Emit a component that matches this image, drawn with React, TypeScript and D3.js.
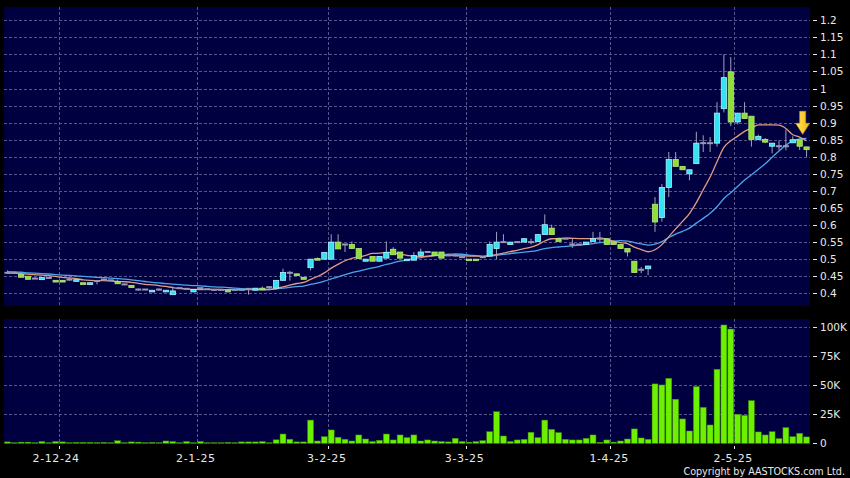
import React from "react";
import * as d3 from "d3";

// ---- data ----
const priorCloses = [0.475, 0.47, 0.472, 0.468, 0.466, 0.47, 0.465, 0.463, 0.466, 0.462, 0.46, 0.462, 0.46, 0.458, 0.46, 0.456, 0.46, 0.458, 0.46];

const opens = [
  0.46, 0.46, 0.455, 0.45, 0.443, 0.44, 0.445, 0.438, 0.438, 0.44,
  0.435, 0.431, 0.426, 0.436, 0.44, 0.438, 0.435, 0.426, 0.423, 0.411,
  0.411, 0.404, 0.411, 0.404, 0.396, 0.415, 0.413, 0.404, 0.415, 0.412,
  0.41, 0.41, 0.409, 0.41, 0.41, 0.413, 0.409, 0.415, 0.418, 0.415,
  0.438, 0.46, 0.457, 0.447, 0.475, 0.502, 0.5, 0.5, 0.55, 0.543,
  0.543, 0.531, 0.494, 0.508, 0.494, 0.503, 0.529, 0.521, 0.497, 0.497,
  0.511, 0.521, 0.521, 0.521, 0.511, 0.511, 0.506, 0.5, 0.5, 0.506,
  0.509, 0.531, 0.55, 0.543, 0.55, 0.55, 0.55, 0.552, 0.572, 0.591,
  0.56, 0.56, 0.543, 0.543, 0.543, 0.552, 0.56, 0.56, 0.55, 0.543,
  0.531, 0.494, 0.469, 0.472, 0.661, 0.622, 0.71, 0.792, 0.772, 0.75,
  0.78, 0.84, 0.84, 0.84, 0.941, 1.049, 0.902, 0.928, 0.919, 0.851,
  0.851, 0.831, 0.831, 0.831, 0.841, 0.85, 0.829,
];
const highs = [
  0.467, 0.46, 0.455, 0.45, 0.447, 0.446, 0.445, 0.438, 0.438, 0.443,
  0.44, 0.431, 0.431, 0.436, 0.443, 0.438, 0.44, 0.426, 0.423, 0.414,
  0.411, 0.409, 0.414, 0.409, 0.42, 0.415, 0.413, 0.411, 0.415, 0.412,
  0.41, 0.41, 0.409, 0.41, 0.41, 0.413, 0.415, 0.42, 0.421, 0.438,
  0.472, 0.465, 0.457, 0.447, 0.5, 0.505, 0.52, 0.573, 0.573, 0.543,
  0.552, 0.531, 0.5, 0.508, 0.508, 0.552, 0.535, 0.521, 0.5, 0.521,
  0.531, 0.524, 0.521, 0.521, 0.511, 0.514, 0.506, 0.5, 0.5, 0.506,
  0.552, 0.58, 0.573, 0.55, 0.55, 0.562, 0.56, 0.572, 0.631, 0.601,
  0.56, 0.56, 0.56, 0.543, 0.55, 0.58, 0.58, 0.56, 0.55, 0.543,
  0.531, 0.494, 0.477, 0.48, 0.682, 0.72, 0.814, 0.814, 0.772, 0.762,
  0.873, 0.863, 0.858, 0.96, 1.1, 1.092, 0.928, 0.96, 0.919, 0.865,
  0.855, 0.84, 0.848, 0.88, 0.86, 0.85, 0.829,
];
const lows = [
  0.458, 0.46, 0.447, 0.441, 0.443, 0.44, 0.445, 0.433, 0.433, 0.437,
  0.435, 0.426, 0.426, 0.426, 0.437, 0.438, 0.428, 0.426, 0.417, 0.408,
  0.411, 0.404, 0.408, 0.404, 0.396, 0.415, 0.413, 0.404, 0.415, 0.412,
  0.41, 0.41, 0.404, 0.41, 0.41, 0.396, 0.409, 0.41, 0.412, 0.415,
  0.438, 0.437, 0.452, 0.441, 0.467, 0.497, 0.5, 0.5, 0.53, 0.521,
  0.531, 0.502, 0.494, 0.494, 0.494, 0.503, 0.513, 0.503, 0.497, 0.497,
  0.511, 0.521, 0.511, 0.503, 0.511, 0.508, 0.506, 0.497, 0.497, 0.506,
  0.509, 0.5, 0.55, 0.543, 0.55, 0.55, 0.543, 0.552, 0.572, 0.572,
  0.552, 0.56, 0.533, 0.543, 0.543, 0.552, 0.55, 0.543, 0.543, 0.531,
  0.508, 0.461, 0.459, 0.453, 0.58, 0.61, 0.682, 0.772, 0.762, 0.731,
  0.78, 0.814, 0.814, 0.83, 0.93, 0.89, 0.895, 0.912, 0.83, 0.851,
  0.84, 0.81, 0.819, 0.819, 0.841, 0.82, 0.8,
];
const closes = [
  0.46, 0.46, 0.447, 0.441, 0.443, 0.446, 0.445, 0.433, 0.433, 0.44,
  0.44, 0.426, 0.431, 0.436, 0.44, 0.438, 0.428, 0.426, 0.417, 0.411,
  0.411, 0.409, 0.411, 0.409, 0.407, 0.415, 0.413, 0.411, 0.415, 0.412,
  0.41, 0.41, 0.404, 0.41, 0.41, 0.413, 0.415, 0.41, 0.418, 0.438,
  0.461, 0.46, 0.452, 0.441, 0.5, 0.497, 0.52, 0.55, 0.53, 0.543,
  0.531, 0.502, 0.5, 0.494, 0.508, 0.52, 0.513, 0.503, 0.5, 0.511,
  0.521, 0.521, 0.511, 0.503, 0.511, 0.511, 0.506, 0.497, 0.497, 0.506,
  0.543, 0.55, 0.55, 0.55, 0.55, 0.56, 0.55, 0.572, 0.601, 0.572,
  0.552, 0.56, 0.543, 0.543, 0.55, 0.56, 0.56, 0.543, 0.543, 0.531,
  0.521, 0.461, 0.469, 0.48, 0.609, 0.71, 0.792, 0.772, 0.762, 0.762,
  0.84, 0.84, 0.84, 0.928, 1.032, 0.902, 0.928, 0.912, 0.851, 0.86,
  0.843, 0.84, 0.831, 0.831, 0.85, 0.831, 0.821,
];
// volume in thousands of shares
const volumesK = [
  1.2, 0.3, 1.0, 1.0, 0.3, 1.5, 0.3, 1.5, 1.2, 0.5,
  0.8, 0.8, 0.8, 0.6, 0.8, 0.5, 2.2, 0.3, 1.2, 1.0,
  0.3, 0.8, 0.3, 2.0, 1.5, 0.2, 1.5, 0.3, 1.5, 0.2,
  0.2, 0.1, 0.8, 0.2, 1.2, 1.2, 1.2, 1.5, 0.5, 3.0,
  8.0, 3.5, 1.2, 1.2, 20, 2.0, 5.7, 11.5, 5.2, 3.5,
  2.0, 7.2, 3.7, 1.5, 2.6, 8.0, 2.9, 7.2, 4.9, 7.2,
  2.0, 2.9, 2.0, 1.5, 1.2, 4.3, 1.5, 1.0, 1.5, 2.3,
  10, 27.3, 6.3, 1.5, 2.9, 3.4, 9.5, 4.9, 20, 12,
  9.2, 3.4, 2.9, 2.9, 4.3, 7.2, 0.9, 2.9, 1.0, 2.0,
  3.7, 12.4, 4.6, 3.4, 51.2, 50.3, 56, 38, 21, 10.6,
  48.9, 31, 15.8, 63.8, 102, 98.5, 25, 24.1, 36.8, 9.8,
  7.2, 10, 4, 13.5, 5.7, 8.6, 5.5,
];
const tickIndex = [8, 28, 47, 67, 88, 106];
const tickLabels = ["2-12-24", "2-1-25", "3-2-25", "3-3-25", "1-4-25", "2-5-25"];
const priceTicks = [0.4, 0.45, 0.5, 0.55, 0.6, 0.65, 0.7, 0.75, 0.8, 0.85, 0.9, 0.95, 1, 1.05, 1.1, 1.15, 1.2];
const volTicks = [0, 25, 50, 75, 100];
const volTickLabels = ["0", "25K", "50K", "75K", "100K"];
const maShort = 10;
const maLong = 20;

// ---- layout ----
const W = 850, H = 478;
const L = 4, R = 810;
const mainTop = 7, mainBot = 306;
const volTop = 319, volBot = 444;

const BG = "#000000";
const PANEL = "#000040";
const GRID = "#56568a";
const TEXT = "#e8e8e8";
const FONT = "'DejaVu Sans', Verdana, sans-serif";

function movingAvg(all: number[], n: number, offset: number) {
  const out: number[] = [];
  for (let i = offset; i < all.length; i++) {
    const s = Math.max(0, i - n + 1);
    out.push(d3.mean(all.slice(s, i + 1)) as number);
  }
  return out;
}

export default function App() {
  const N = closes.length;
  const idx = d3.range(N);
  const pad = 0.18;
  const x = d3.scaleBand<number>().domain(idx).range([L, R]).paddingInner(pad).paddingOuter(pad / 2);
  const step = x.step();
  const bw = x.bandwidth();
  const cx = (i: number) => (x(i) as number) + bw / 2;
  const slot = (i: number) => (x(i) as number) - (step * pad) / 2;

  const y = d3.scaleLinear().domain([0.4, 1.2]).range([293.3, 20.3]);
  const yv = d3.scaleLinear().domain([0, 100]).range([443.3, 327.3]);

  const all = [...priorCloses, ...closes];
  const ma10 = movingAvg(all, maShort, priorCloses.length);
  const ma20 = movingAvg(all, maLong, priorCloses.length);
  const line = d3.line<number>().x((_, i) => cx(i)).y((d) => y(d)).curve(d3.curveMonotoneX);

  const UP = "#35e2f4", UPS = "#a8f4ff";
  const DN = "#8ee034", DNS = "#b8e880";
  const DOJI = "#9a9ab4";

  const ai = N - 2;
  const ax = cx(ai) + 3;
  const tipY = y(0.866);

  return (
    <svg width={W} height={H} style={{ position: "fixed", left: 0, top: 0, display: "block" }}>
      <rect x={0} y={0} width={W} height={H} fill={BG} />
      <rect x={L} y={mainTop} width={R - L} height={mainBot - mainTop} fill={PANEL} />
      <rect x={L} y={volTop} width={R - L} height={volBot - volTop} fill={PANEL} />

      {/* grid */}
      {priceTicks.map((p) => (
        <line key={"hg" + p} x1={L} x2={R} y1={Math.round(y(p)) + 0.5} y2={Math.round(y(p)) + 0.5} stroke={GRID} strokeDasharray="3,2" />
      ))}
      {volTicks.filter((v) => v > 0).map((v) => (
        <line key={"vg" + v} x1={L} x2={R} y1={Math.round(yv(v)) + 0.5} y2={Math.round(yv(v)) + 0.5} stroke={GRID} strokeDasharray="3,2" />
      ))}
      {tickIndex.map((ti) => (
        <g key={"vt" + ti}>
          <line x1={Math.round(slot(ti)) + 0.5} x2={Math.round(slot(ti)) + 0.5} y1={mainTop} y2={mainBot} stroke={GRID} strokeDasharray="3,2" />
          <line x1={Math.round(slot(ti)) + 0.5} x2={Math.round(slot(ti)) + 0.5} y1={volTop} y2={volBot} stroke={GRID} strokeDasharray="3,2" />
          <line x1={Math.round(slot(ti)) + 0.5} x2={Math.round(slot(ti)) + 0.5} y1={volBot + 2} y2={volBot + 5} stroke={TEXT} />
        </g>
      ))}

      {/* volume */}
      {idx.map((i) => {
        const top = yv(volumesK[i]);
        const h = Math.max(0.6, yv(0) - top);
        return (
          <rect key={"v" + i} x={slot(i) + 0.5} y={yv(0) - h} width={step - 1} height={h} fill="#6cf000" stroke="#3c8c00" strokeWidth={0.5} />
        );
      })}

      {/* MAs */}
      <path d={line(ma20) as string} fill="none" stroke="#4aa6ec" strokeWidth={1.3} />
      <path d={line(ma10) as string} fill="none" stroke="#e39a84" strokeWidth={1.3} />

      {/* candles */}
      {idx.map((i) => {
        const o = opens[i], c = closes[i], hi = highs[i], lo = lows[i];
        const doji = Math.abs(o - c) < 1e-9;
        const up = c > o;
        const top = y(Math.max(o, c));
        const bot = y(Math.min(o, c));
        return (
          <g key={"c" + i}>
            {hi > lo && <line x1={cx(i)} x2={cx(i)} y1={y(hi)} y2={y(lo)} stroke="#a0a0b8" strokeWidth={1} />}
            {doji ? (
              <rect x={(x(i) as number) - 0.2} y={top - 1} width={bw + 0.4} height={2} fill={DOJI} />
            ) : (
              <rect x={(x(i) as number) + 0.2} y={top} width={bw - 0.4} height={Math.max(1.5, bot - top)} fill={up ? UP : DN} stroke={up ? UPS : DNS} strokeWidth={0.8} />
            )}
          </g>
        );
      })}

      {/* arrow */}
      <defs>
        <linearGradient id="arr" x1="0" x2="1" y1="0" y2="0">
          <stop offset="0" stopColor="#ffe96a" />
          <stop offset="1" stopColor="#f2b400" />
        </linearGradient>
      </defs>
      <path
        d={`M${ax - 3},${tipY - 23} L${ax + 3},${tipY - 23} L${ax + 3},${tipY - 11} L${ax + 7},${tipY - 11} L${ax},${tipY} L${ax - 7},${tipY - 11} L${ax - 3},${tipY - 11} Z`}
        fill="url(#arr)"
        stroke="#d89a00"
        strokeWidth={0.6}
      />

      {/* right axis */}
      {priceTicks.map((p) => (
        <g key={"pt" + p}>
          <line x1={813} x2={817} y1={Math.round(y(p)) + 0.5} y2={Math.round(y(p)) + 0.5} stroke={TEXT} />
          <text x={820} y={y(p) + 4} fill={TEXT} fontSize={10.5} fontFamily={FONT}>
            {String(+p.toFixed(2))}
          </text>
        </g>
      ))}
      {volTicks.map((v, k) => (
        <g key={"vl" + v}>
          <line x1={813} x2={817} y1={Math.round(yv(v)) + 0.5} y2={Math.round(yv(v)) + 0.5} stroke={TEXT} />
          <text x={820} y={yv(v) + 4} fill={TEXT} fontSize={10.5} fontFamily={FONT}>
            {volTickLabels[k]}
          </text>
        </g>
      ))}

      {/* bottom axis */}
      {tickIndex.map((ti, k) => (
        <text key={"bl" + ti} x={slot(ti) - (k === 0 ? 3 : 1)} y={462} fill={TEXT} fontSize={11} fontFamily={FONT} textAnchor="middle" letterSpacing={0.6}>
          {tickLabels[k]}
        </text>
      ))}
      <text x={845} y={475} fill={TEXT} fontSize={9.6} fontFamily={FONT} textAnchor="end">
        Copyright by AASTOCKS.com Ltd.
      </text>
    </svg>
  );
}
